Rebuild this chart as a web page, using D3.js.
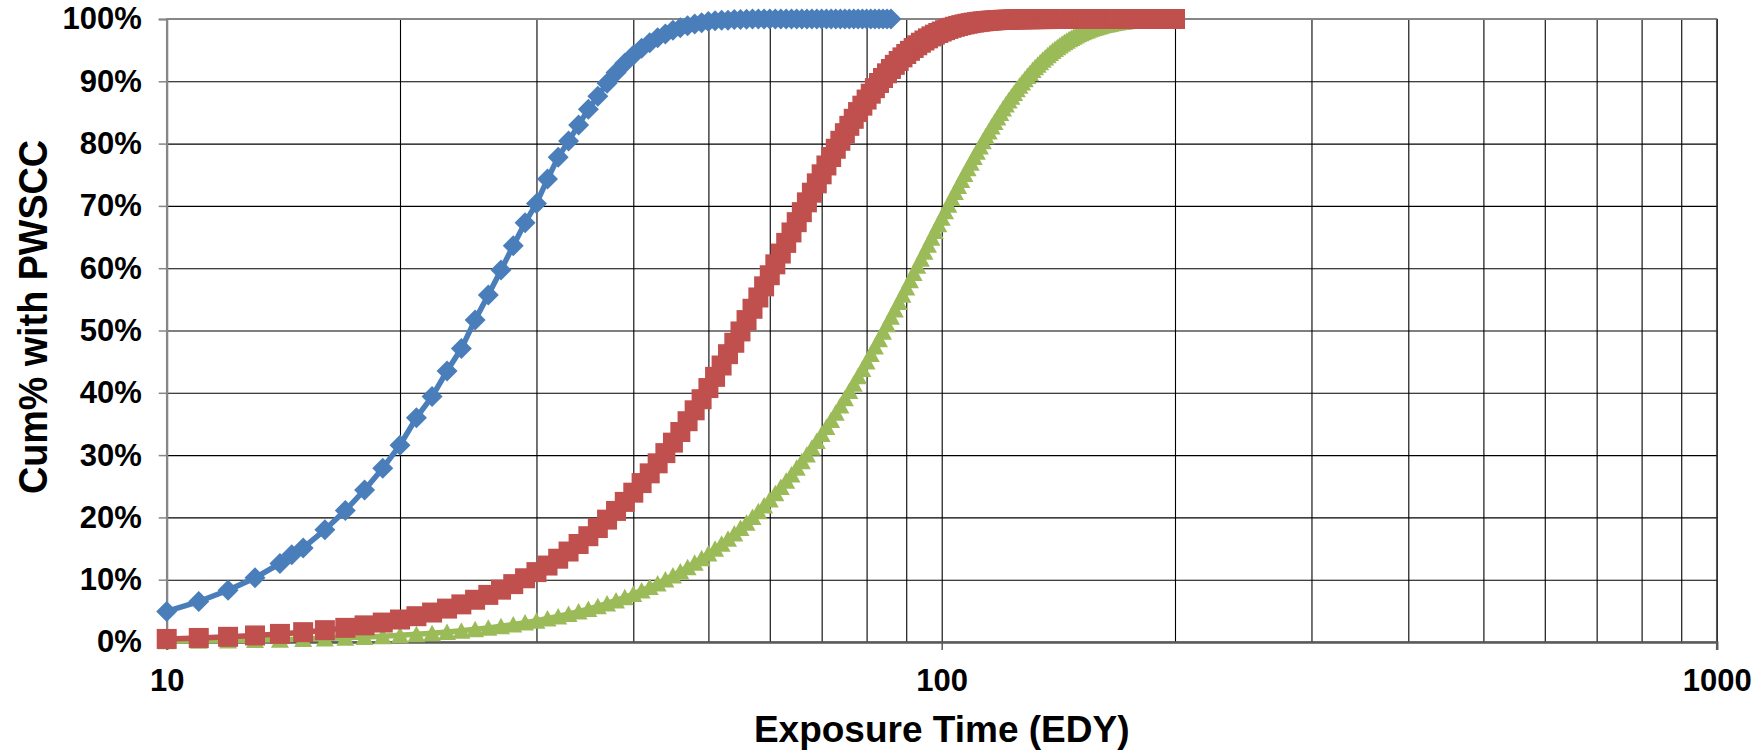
<!DOCTYPE html>
<html>
<head>
<meta charset="utf-8">
<script src="https://cdn.jsdelivr.net/npm/d3@7"></script>
<style>
  html, body { margin: 0; padding: 0; background: #ffffff; }
  svg { display: block; }
  text { font-family: "Liberation Sans", Arial, sans-serif; font-weight: bold; fill: #000; }
</style>
</head>
<body>
<svg id="chart" width="1764" height="753"></svg>
<script>
// ---- Data: cumulative % of units with PWSCC vs. exposure time (EDY) ----
const blueTimes = [10, 11, 12, 13, 14, 14.5, 15, 16, 17, 18, 19, 20, 21, 22, 23, 24, 25, 26, 27, 28, 29,
  30, 31, 32, 33, 34, 35, 36, 37, 38, 39, 40, 41, 42, 43, 44, 45, 46, 47, 48, 49, 50, 51, 52, 53, 54, 55,
  56, 57, 58, 59, 60, 61, 62, 63, 64, 65, 66, 67, 68, 69, 70, 71, 72, 73, 74, 75, 76, 77, 78, 79, 80,
  81, 82, 83, 84, 85, 86];
const blueCum = [4.9, 6.5, 8.3, 10.3, 12.6, 14.0, 15.1, 18.0, 21.1, 24.4, 27.9, 31.6, 36.0, 39.4, 43.5,
  47.1, 51.7, 55.7, 59.7, 63.6, 67.3, 70.4, 74.3, 77.8, 80.4, 83.0, 85.5, 87.6, 89.7, 91.4, 92.9, 94.2,
  95.3, 96.2, 97.0, 97.6, 98.2, 98.6, 98.9, 99.2, 99.4, 99.6, 99.7, 99.8, 99.8, 99.9, 99.9, 99.95,
  100, 100, 100, 100, 100, 100, 100, 100, 100, 100, 100, 100, 100, 100, 100, 100, 100, 100, 100, 100,
  100, 100, 100, 100, 100, 100, 100, 100, 100, 100];

const exposureGrid = [10, 11, 12, 13, 14, 15, 16, 17, 18, 19, 20, 21, 22, 23, 24, 25, 26, 27, 28, 29,
  30, 31, 32, 33, 34, 35, 36, 37, 38, 39, 40, 41, 42, 43, 44, 45, 46, 47, 48, 49,
  50, 51, 52, 53, 54, 55, 56, 57, 58, 59, 60, 61, 62, 63, 64, 65, 66, 67, 68, 69,
  70, 71, 72, 73, 74, 75, 76, 77, 78, 79, 80, 81, 82, 83, 84, 85, 86, 87, 88, 89,
  90, 91, 92, 93, 94, 95, 96, 97, 98, 99, 100, 101, 102, 103, 104, 105, 106, 107, 108, 109,
  110, 111, 112, 113, 114, 115, 116, 117, 118, 119, 120, 121, 122, 123, 124, 125, 126, 127, 128, 129,
  130, 131, 132, 133, 134, 135, 136, 137, 138, 139, 140, 141, 142, 143, 144, 145, 146, 147, 148, 149,
  150, 151, 152, 153, 154, 155, 156, 157, 158, 159, 160, 161, 162, 163, 164, 165, 166, 167, 168, 169,
  170, 171, 172, 173, 174, 175, 176, 177, 178, 179, 180, 181, 182, 183, 184, 185, 186, 187, 188, 189,
  190, 191, 192, 193, 194, 195, 196, 197, 198, 199, 200];

const redCum = [0.49, 0.65, 0.83, 1.05, 1.30, 1.58, 1.90, 2.27, 2.67, 3.12,
  3.61, 4.14, 4.73, 5.36, 6.04, 6.78, 7.56, 8.40, 9.29, 10.23,
  11.22, 12.27, 13.37, 14.52, 15.73, 16.98, 18.29, 19.64, 21.04, 22.49,
  23.97, 25.51, 27.07, 28.68, 30.32, 32.00, 33.71, 35.44, 37.19, 38.97,
  40.76, 42.56, 44.38, 46.20, 48.03, 49.85, 51.67, 53.49, 55.30, 57.09,
  58.87, 60.62, 62.35, 64.06, 65.74, 67.39, 69.00, 70.57, 72.12, 73.62,
  75.07, 76.49, 77.85, 79.17, 80.45, 81.67, 82.85, 83.98, 85.06, 86.09,
  87.07, 88.01, 88.90, 89.73, 90.53, 91.28, 91.98, 92.64, 93.26, 93.84,
  94.38, 94.89, 95.35, 95.78, 96.19, 96.55, 96.89, 97.21, 97.49, 97.75,
  97.99, 98.21, 98.41, 98.59, 98.75, 98.89, 99.02, 99.14, 99.24, 99.34,
  99.42, 99.49, 99.56, 99.62, 99.67, 99.71, 99.75, 99.79, 99.82, 99.84,
  99.87, 99.89, 99.90, 99.92, 99.93, 99.94, 99.95, 99.96, 99.96, 99.97,
  99.98, 99.98, 99.98, 99.99, 99.99, 99.99, 99.99, 99.99, 100, 100,
  100, 100, 100, 100, 100, 100, 100, 100, 100, 100,
  100, 100, 100, 100, 100, 100, 100, 100, 100, 100,
  100, 100, 100, 100, 100, 100, 100, 100, 100, 100,
  100, 100, 100, 100, 100, 100, 100, 100, 100, 100,
  100, 100, 100, 100, 100, 100, 100, 100, 100, 100,
  100, 100, 100, 100, 100, 100, 100, 100, 100, 100, 100];

const greenCum = [0.14, 0.19, 0.24, 0.31, 0.38, 0.47, 0.56, 0.67, 0.79, 0.92,
  1.07, 1.23, 1.41, 1.60, 1.81, 2.03, 2.27, 2.53, 2.81, 3.11,
  3.42, 3.76, 4.11, 4.49, 4.88, 5.30, 5.73, 6.19, 6.68, 7.18,
  7.70, 8.25, 8.82, 9.41, 10.03, 10.67, 11.33, 12.01, 12.72, 13.45,
  14.20, 14.97, 15.77, 16.58, 17.42, 18.28, 19.16, 20.06, 20.98, 21.93,
  22.89, 23.86, 24.86, 25.87, 26.90, 27.95, 29.00, 30.09, 31.17, 32.27,
  33.38, 34.51, 35.65, 36.80, 37.96, 39.12, 40.29, 41.47, 42.65, 43.84,
  45.03, 46.23, 47.42, 48.61, 49.81, 51.00, 52.19, 53.38, 54.57, 55.74,
  56.91, 58.08, 59.24, 60.39, 61.53, 62.66, 63.77, 64.88, 65.97, 67.04,
  68.11, 69.16, 70.20, 71.22, 72.22, 73.19, 74.16, 75.11, 76.03, 76.94,
  77.83, 78.70, 79.55, 80.37, 81.18, 81.96, 82.73, 83.47, 84.20, 84.90,
  85.62, 86.28, 86.92, 87.53, 88.14, 88.72, 89.28, 89.82, 90.34, 90.85,
  91.34, 91.80, 92.24, 92.67, 93.07, 93.46, 93.84, 94.19, 94.54, 94.86,
  95.18, 95.47, 95.76, 96.02, 96.28, 96.52, 96.74, 96.96, 97.16, 97.36,
  97.54, 97.71, 97.87, 98.02, 98.16, 98.30, 98.42, 98.54, 98.65, 98.75,
  98.85, 98.94, 99.02, 99.10, 99.17, 99.24, 99.30, 99.36, 99.42, 99.47,
  99.51, 99.56, 99.59, 99.63, 99.66, 99.69, 99.72, 99.75, 99.77, 99.79,
  99.81, 99.83, 99.85, 99.86, 99.88, 99.89, 99.90, 99.91, 99.92, 99.93,
  99.94, 99.94, 99.95, 99.95, 99.96, 99.96, 99.97, 99.97, 99.97, 99.98, 99.98];

const xMajorTicks = [10, 100, 1000];
const xGridValues = [20, 30, 40, 50, 60, 70, 80, 90, 100, 200, 300, 400, 500, 600, 700, 800, 900, 1000];
const yTickValues = [0, 10, 20, 30, 40, 50, 60, 70, 80, 90, 100];

// ---- Layout ----
const svg = d3.select("#chart");
const plotLeft = 166.7, plotRight = 1716.7, plotTop = 19, plotBottom = 642;

const x = d3.scaleLog().domain([10, 1000]).range([plotLeft, plotRight]);
const y = d3.scaleLinear().domain([0, 100]).range([plotBottom, plotTop]);

// Plot frame
svg.append("rect")
  .attr("x", plotLeft).attr("y", plotTop)
  .attr("width", plotRight - plotLeft).attr("height", plotBottom - plotTop)
  .attr("fill", "#fff").attr("stroke", "#868686").attr("stroke-width", 1.5);

// Vertical gridlines (log decades)
const xGrid = svg.append("g").attr("transform", `translate(0,${plotBottom})`)
  .call(d3.axisBottom(x).tickValues(xGridValues).tickSize(-(plotBottom - plotTop)).tickFormat(""));
xGrid.select(".domain").remove();
xGrid.selectAll(".tick line").attr("stroke", "#000").attr("stroke-width", 1.1);

// Horizontal gridlines
const yGrid = svg.append("g").attr("transform", `translate(${plotLeft},0)`)
  .call(d3.axisLeft(y).tickValues(yTickValues.slice(1)).tickSize(-(plotRight - plotLeft)).tickFormat(""));
yGrid.select(".domain").remove();
yGrid.selectAll(".tick line").attr("stroke", "#000").attr("stroke-width", 1.1);

// Top border redrawn over the 100% gridline
svg.append("line").attr("x1", plotLeft).attr("x2", plotRight).attr("y1", plotTop).attr("y2", plotTop)
  .attr("stroke", "#868686").attr("stroke-width", 2);

// Y axis
const yAxis = svg.append("g").attr("transform", `translate(${plotLeft},0)`)
  .call(d3.axisLeft(y).tickValues(yTickValues).tickSize(8).tickPadding(17).tickFormat(d => d + "%"));
yAxis.select(".domain").attr("stroke", "#868686").attr("stroke-width", 2.2);
yAxis.selectAll(".tick line").attr("stroke", "#868686").attr("stroke-width", 1.5);
yAxis.selectAll("text").style("font-size", "31px").attr("fill", "#000");

// X axis
const xAxis = svg.append("g").attr("transform", `translate(0,${plotBottom})`)
  .call(d3.axisBottom(x).tickValues(xMajorTicks).tickSize(8).tickPadding(19).tickFormat(d3.format("d")));
xAxis.select(".domain").attr("stroke", "#5a5a5a").attr("stroke-width", 2.5);
xAxis.selectAll(".tick line").attr("stroke", "#5a5a5a").attr("stroke-width", 1.5);
xAxis.selectAll("text").style("font-size", "31px").attr("fill", "#000");

// Axis titles
svg.append("text")
  .attr("x", (plotLeft + plotRight) / 2).attr("y", 742)
  .attr("text-anchor", "middle").style("font-size", "37px")
  .text("Exposure Time (EDY)");

svg.append("text")
  .attr("transform", "translate(47,317) rotate(-90) scale(0.943,1)")
  .attr("text-anchor", "middle").style("font-size", "40px")
  .text("Cum% with PWSCC");

// ---- Series ----
const series = [
  { name: "green", times: exposureGrid, cum: greenCum, color: "#9BBB59", shape: "triangle" },
  { name: "red", times: exposureGrid, cum: redCum, color: "#C0504D", shape: "square" },
  { name: "blue", times: blueTimes, cum: blueCum, color: "#4A7EBB", shape: "diamond" }
];

const markerPath = {
  diamond: "M0,-10.5L10.5,0L0,10.5L-10.5,0Z",
  square: "M-10,-10H10V10H-10Z",
  triangle: "M0,-8.5L9,8H-9Z"
};

const line = d3.line().x(d => x(d[0])).y(d => y(d[1]));

series.forEach(s => {
  const pts = s.times.map((t, i) => [t, s.cum[i]]);
  const g = svg.append("g").attr("class", "series-" + s.name);
  g.append("path").datum(pts)
    .attr("d", line)
    .attr("fill", "none")
    .attr("stroke", s.color)
    .attr("stroke-width", 5.5)
    .attr("stroke-linejoin", "round");
  g.selectAll("path.marker").data(pts).join("path")
    .attr("class", "marker")
    .attr("transform", d => `translate(${x(d[0])},${y(d[1])})`)
    .attr("d", markerPath[s.shape])
    .attr("fill", s.color);
});
</script>
</body>
</html>
